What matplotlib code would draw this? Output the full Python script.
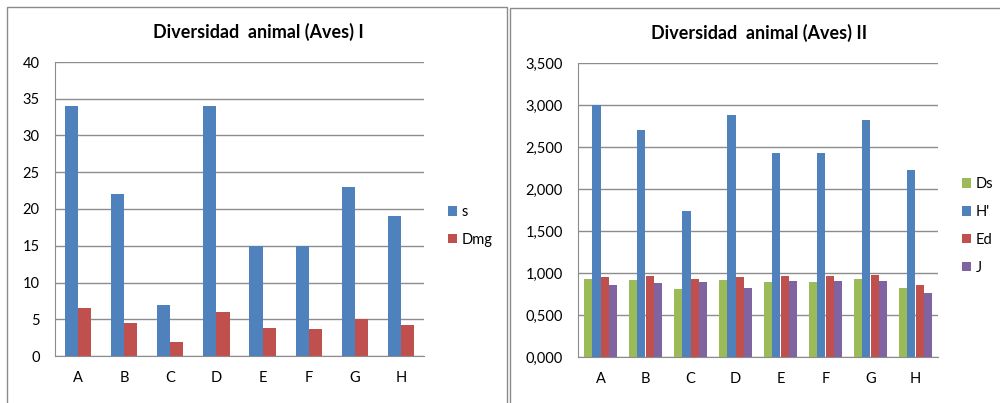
# coding: utf-8

"""
Diversidad animal (Aves): dos graficos de barras lado a lado
"""

import matplotlib
matplotlib.use("Agg")
import matplotlib.pyplot as plt
from matplotlib.patches import Rectangle
import numpy as np

#==========
# Datos

sitios = ["A", "B", "C", "D", "E", "F", "G", "H"]

# Grafico I
s_vals = [34, 22, 7, 34, 15, 15, 23, 19]
dmg_vals = [6.57, 4.5, 1.9, 6.0, 3.85, 3.7, 5.1, 4.25]

# Grafico II
ds_vals = [0.928, 0.916, 0.804, 0.916, 0.896, 0.896, 0.928, 0.816]
h_vals = [3.000, 2.698, 1.744, 2.880, 2.428, 2.428, 2.825, 2.221]
ed_vals = [0.952, 0.964, 0.928, 0.952, 0.964, 0.964, 0.976, 0.860]
j_vals = [0.860, 0.884, 0.896, 0.824, 0.908, 0.908, 0.908, 0.760]

AZUL = "#4F81BD"
ROJO = "#C0504D"
VERDE = "#9BBB59"
MORADO = "#8064A2"
GRIS = "#8C8C8C"

plt.rcParams["font.family"] = ["Lato", "DejaVu Sans"]

W, H = 1000, 403


def px_axes(fig, x0, y0, x1, y1):
	# caja en pixeles (origen arriba a la izquierda)
	return fig.add_axes([x0 / W, 1 - y1 / H, (x1 - x0) / W, (y1 - y0) / H])


def estilo(ax, ymax, paso):
	ax.set_ylim(0, ymax)
	ax.set_xlim(-0.5, len(sitios) - 0.5)
	ax.set_yticks(np.arange(0, ymax + paso / 2, paso))
	ax.yaxis.grid(True, color=GRIS, linewidth=1)
	ax.set_axisbelow(True)
	for k in ["top", "right"]:
		ax.spines[k].set_visible(False)
	for k in ["left", "bottom"]:
		ax.spines[k].set_color(GRIS)
	ax.tick_params(length=0, labelsize=10.5, pad=11)
	ax.set_xticks(range(len(sitios)))
	ax.set_xticklabels(sitios)


def leyenda(ax, fig, x, y):
	ax.legend(loc="center left", bbox_to_anchor=(x / W, 1 - y / H), bbox_transform=fig.transFigure,
		frameon=False, fontsize=10.5, handlelength=0.6, handleheight=0.6, handletextpad=0.35,
		labelspacing=0.95, borderpad=0, borderaxespad=0)


def main():
	fig = plt.figure(figsize=(W / 100, H / 100), dpi=100)

	# Marcos de los dos graficos
	fig.add_artist(Rectangle((7 / W, -0.1), 500 / W, 1.1 - 7 / H, transform=fig.transFigure,
		fill=False, edgecolor="#8a8a8a", linewidth=1))
	fig.add_artist(Rectangle((510 / W, -0.1), 0.6, 1.1 - 8 / H, transform=fig.transFigure,
		fill=False, edgecolor="#8a8a8a", linewidth=1))

	x = np.arange(len(sitios))

	# Grafico I
	ax1 = px_axes(fig, 55, 62, 424, 356)
	w = 1 / 3.5
	ax1.bar(x - w / 2, s_vals, w, color=AZUL, label="s")
	ax1.bar(x + w / 2, dmg_vals, w, color=ROJO, label="Dmg")
	estilo(ax1, 40, 5)
	leyenda(ax1, fig, 448, 226)
	fig.text(258 / W, 1 - 32 / H, "Diversidad  animal (Aves) I", ha="center", va="center",
		fontsize=12.9, fontweight="bold")

	# Grafico II
	ax2 = px_axes(fig, 578, 63, 938, 357)
	w = 1 / 5.5
	series = [(ds_vals, VERDE, "Ds"), (h_vals, AZUL, "H'"), (ed_vals, ROJO, "Ed"), (j_vals, MORADO, "J")]
	for i, (vals, col, nom) in enumerate(series):
		ax2.bar(x + (i - 1.5) * w, vals, w, color=col, label=nom)
	estilo(ax2, 3.5, 0.5)
	ax2.set_yticklabels([f"{v:.3f}".replace(".", ",") for v in np.arange(0, 3.75, 0.5)])
	leyenda(ax2, fig, 962, 226)
	fig.text(759 / W, 1 - 33 / H, "Diversidad  animal (Aves) II", ha="center", va="center",
		fontsize=12.9, fontweight="bold")

	fig.savefig("out.png", dpi=100)


if __name__ == "__main__":
	main()
